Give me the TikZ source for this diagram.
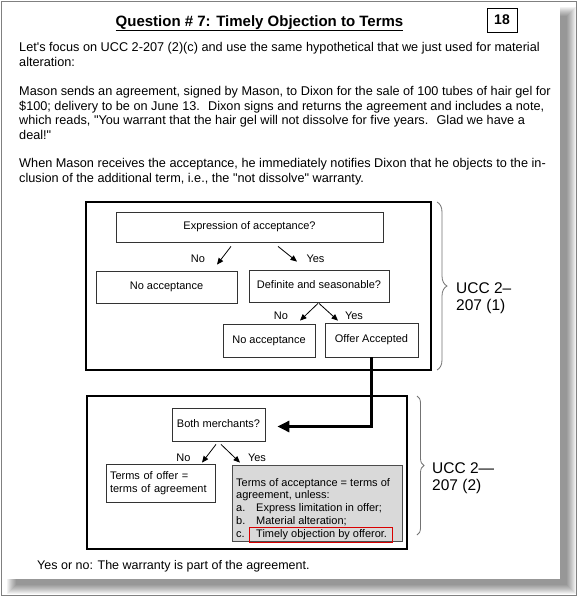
\documentclass[tikz,border=0pt]{standalone}
\usepackage{fontspec}
\newfontfamily\arial{Liberation Sans}
\usetikzlibrary{arrows.meta,calc,decorations.pathreplacing}
\begin{document}
\begin{tikzpicture}[x=1pt,y=-1pt,
  body/.style={anchor=base west,inner sep=0pt,font=\arial\fontsize{12.7}{15}\selectfont},
  bx/.style={draw=black!80,line width=0.8pt,fill=white,inner sep=0pt,text height=8pt,text depth=2.3pt,font=\arial\fontsize{11}{12.75}\selectfont},
  frame/.style={draw=black,line width=2.6pt},
  lbl/.style={anchor=base,inner sep=0pt,font=\arial\fontsize{11}{12.75}\selectfont},
  arr/.style={line width=0.8pt,-{Triangle[length=6.5pt,width=5.5pt]}},
  bigarr/.style={line width=3pt,-{Triangle[length=12pt,width=11pt]}},
  brc/.style={draw=black!55,line width=0.8pt,decorate},
  ucc/.style={anchor=west,align=left,inner sep=0pt,font=\arial\fontsize{15.5}{17.5}\selectfont}
]
\useasboundingbox (0,0) rectangle (578,597);
% page shadow
\foreach \i in {0,...,9}
  \fill[black,opacity=0.05] (7+\i,7+\i) rectangle (576-\i,594-\i);
\fill[white] (2,2) rectangle (560,579);
\draw[black!50,line width=1pt] (1.5,1.5) rectangle (576,595);

% title
\node[anchor=base,inner sep=0pt,font=\arial\bfseries\fontsize{15}{17}\selectfont] (title) at (259.5,26.7) {Question \# 7: Timely Objection to Terms};
\draw[line width=1.2pt] ([yshift=-3.4pt]title.base west) -- ([yshift=-3.4pt]title.base east);
\node[draw=black,line width=1pt,minimum width=30pt,minimum height=24pt,inner sep=0pt,font=\arial\bfseries\fontsize{14}{16}\selectfont] (num) at (502,20) {18};

% body text
\node[body] (t1) at (19,51.7) {Let's focus on UCC 2-207 (2)(c) and use the same hypothetical that we just used for material};
\node[body] (t2) at (19,66.7) {alteration:};
\node[body] (t3) at (19,95) {Mason sends an agreement, signed by Mason, to Dixon for the sale of 100 tubes of hair gel for};
\node[body] (t4) at (19,110) {\$100; delivery to be on June 13.~ Dixon signs and returns the agreement and includes a note,};
\node[body] (t5) at (19,124.5) {which reads, "You warrant that the hair gel will not dissolve for five years.~ Glad we have a};
\node[body] (t6) at (19,139.3) {deal!"};
\node[body] (t7) at (19,167.5) {When Mason receives the acceptance, he immediately notifies Dixon that he objects to the in-};
\node[body] (t8) at (19,182.3) {clusion of the additional term, i.e., the "not dissolve" warranty.};

% box 1
\draw[frame] (86,202) rectangle (431,370);
\node[bx,minimum width=267pt,minimum height=30pt] (E1) at (249.5,227) {Expression of acceptance?};
\node[bx,minimum width=141pt,minimum height=32pt] (N1) at (166.5,287) {No acceptance};
\node[bx,minimum width=140pt,minimum height=32pt] (D1) at (319,286) {Definite and seasonable?};
\node[bx,minimum width=92pt,minimum height=33pt] (N2) at (269,340.5) {No acceptance};
\node[bx,minimum width=93pt,minimum height=34pt] (OA) at (371.5,340) {Offer Accepted};
\node[lbl] (l1) at (198,262) {No};
\node[lbl] (l2) at (315.5,262) {Yes};
\node[lbl] (l3) at (281,319) {No};
\node[lbl] (l4) at (354,319) {Yes};
\draw[arr] ($(E1.south)+(-18.5,4)$) -- ($(N1.north)+(50.5,-6)$);
\draw[arr] ($(E1.south)+(28.5,4)$) -- ($(D1.north)+(-22,-8)$);
\draw[arr] ($(D1.south)+(-1,1)$) -- ($(N2.north)+(31,-3)$);
\draw[arr] ($(D1.south)+(0,1)$) -- ($(OA.north)+(-33.5,-2)$);
\draw[brc,decoration={brace,amplitude=10pt}] (437,202) -- (437,370);
\node[ucc] (U1) at (456,298) {UCC 2–\\207 (1)};

% box 2
\draw[frame] (87,396) rectangle (407,549);
\node[bx,minimum width=93pt,minimum height=33pt] (BM) at (218.5,424.5) {Both merchants?};
\node[draw=black!80,line width=0.8pt,fill=white,minimum width=109pt,minimum height=38pt,inner xsep=4pt,inner ysep=0pt,text width=101pt,align=left,font=\arial\fontsize{11}{13}\selectfont] (TO) at (160.5,483) {Terms of offer =\\terms of agreement};
\node[draw=black!70,line width=0.8pt,fill=black!15,minimum width=170pt,minimum height=76pt,inner sep=0pt] (TA) at (317,503) {};
\node[anchor=north west,align=left,inner sep=0pt,font=\arial\fontsize{11}{12.75}\selectfont] (TAt) at (236,478) {Terms of acceptance = terms of\\agreement, unless:\\\makebox[20pt][l]{a.}Express limitation in offer;\\\makebox[20pt][l]{b.}Material alteration;\\\makebox[20pt][l]{c.}Timely objection by offeror.};
\draw[red!85!black,line width=0.8pt] (249,527) rectangle (392,542);
\node[lbl] (l5) at (183.5,461) {No};
\node[lbl] (l6) at (257,461) {Yes};
\draw[arr] ($(BM.south)+(-2.5,3)$) -- ($(TO.north)+(41.5,-1)$);
\draw[arr] ($(BM.south)+(2.5,3)$) -- ($(TA.north)+(-77,-2)$);
\draw[brc,decoration={brace,amplitude=7pt}] (417,396) -- (417,535);
\node[ucc] (U2) at (432,478) {UCC 2—\\207 (2)};

% connector
\draw[bigarr] (OA.south) |- ($(BM.east)+(12,2)$);

% conclusion
\node[body,font=\arial\fontsize{12.5}{15}\selectfont] (t9) at (37,569.5) {Yes or no: The warranty is part of the agreement.};
\end{tikzpicture}
\end{document}
